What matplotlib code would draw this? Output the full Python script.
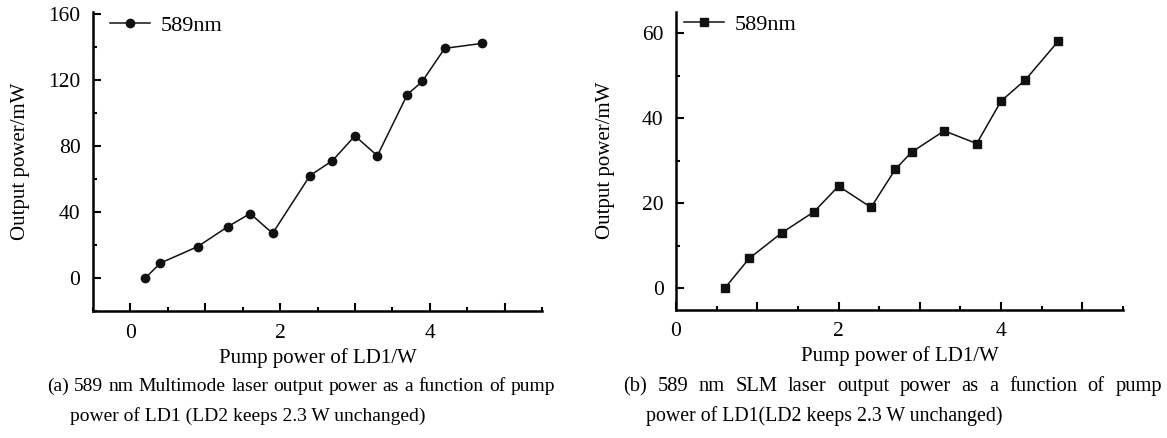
import matplotlib
matplotlib.use('Agg')
import matplotlib.pyplot as plt
from matplotlib.ticker import MultipleLocator, FuncFormatter

plt.rcParams['font.family'] = ['Liberation Serif', 'DejaVu Serif']

# (a) multimode 589 nm output vs LD1 pump power
pump_a = [0.2, 0.4, 0.9, 1.3, 1.6, 1.9, 2.4, 2.7, 3.0, 3.3, 3.7, 3.9, 4.2, 4.7]
power_a = [0, 9, 19, 31, 39, 27, 62, 71, 86, 74, 111, 119, 139, 142]

# (b) SLM 589 nm output vs LD1 pump power
pump_b = [0.6, 0.9, 1.3, 1.7, 2.0, 2.4, 2.7, 2.9, 3.3, 3.7, 4.0, 4.3, 4.7]
power_b = [0, 7, 13, 18, 24, 19, 28, 32, 37, 34, 44, 49, 58]

xlabel = 'Pump power of LD1/W'
ylabel = 'Output power/mW'
legend_label = '589nm'
caption_a = ['(a) 589 nm Multimode laser output power as a function of pump',
             'power of LD1 (LD2 keeps 2.3 W unchanged)']
caption_b = ['(b) 589 nm SLM laser output power as a function of pump',
             'power of LD1(LD2 keeps 2.3 W unchanged)']

W, H = 1167, 438
fig = plt.figure(figsize=(W / 100, H / 100), dpi=100)
renderer = fig.canvas.get_renderer()


def px_axes(left, right, bottom, top):
    return fig.add_axes([left / W, 1 - bottom / H, (right - left) / W, (bottom - top) / H])


def even_only(v, pos):
    i = int(round(v))
    return str(i) if i % 2 == 0 else ''


def style(ax, ymajor, yminor, ypad):
    for s in ['top', 'right']:
        ax.spines[s].set_visible(False)
    for s in ['left', 'bottom']:
        ax.spines[s].set_linewidth(1.8)
    ax.xaxis.set_major_locator(MultipleLocator(1))
    ax.xaxis.set_minor_locator(MultipleLocator(0.5))
    ax.xaxis.set_major_formatter(FuncFormatter(even_only))
    ax.yaxis.set_major_locator(MultipleLocator(ymajor))
    ax.yaxis.set_minor_locator(MultipleLocator(yminor))
    ax.tick_params(which='major', direction='in', length=6, width=1.5, labelsize=15.5, pad=9)
    ax.tick_params(which='minor', direction='in', length=3, width=1.5)
    ax.set_xlabel(xlabel, fontsize=15, labelpad=4)
    ax.set_ylabel(ylabel, fontsize=15, labelpad=ypad)


def justified(line, x0, x1, y, size):
    # words spread so the line fills x0..x1 pixels, like a justified caption
    words = line.split(' ')
    texts = [fig.text(0, 1 - y / H, w, fontsize=size, va='baseline', ha='left') for w in words]
    widths = [t.get_window_extent(renderer).width for t in texts]
    gap = (x1 - x0 - sum(widths)) / (len(words) - 1)
    x = x0
    for t, w in zip(texts, widths):
        t.set_x(x / W)
        x += w + gap


ax1 = px_axes(93, 542, 311, 12)
ax1.plot(pump_a, power_a, '-o', color='#111111', lw=1.1, ms=6, label=legend_label)
ax1.set_xlim(-0.5, 5.5)
ax1.set_ylim(-20, 161)
style(ax1, 40, 20, 13)
ax1.legend(loc='upper left', bbox_to_anchor=(0.038, 0.99), frameon=False, fontsize=16,
           handlelength=1.8, handletextpad=0.5, borderpad=0, borderaxespad=0)

ax2 = px_axes(676, 1123, 309.5, 11.7)
ax2.plot(pump_b, power_b, '-s', color='#111111', lw=1.1, ms=6, label=legend_label)
ax2.set_xlim(0, 5.5)
ax2.set_ylim(-5, 65)
style(ax2, 20, 10, 19.5)
ax2.legend(loc='upper left', bbox_to_anchor=(0.018, 0.99), frameon=False, fontsize=16,
           handlelength=1.8, handletextpad=0.5, borderpad=0, borderaxespad=0)

justified(caption_a[0], 47, 555, 391, 14)
fig.text(70 / W, 1 - 421 / H, caption_a[1], fontsize=14, va='baseline', ha='left')
justified(caption_b[0], 623, 1162, 391, 14.8)
fig.text(646 / W, 1 - 421 / H, caption_b[1], fontsize=14.3, va='baseline', ha='left')

fig.savefig('out.png', dpi=100)
